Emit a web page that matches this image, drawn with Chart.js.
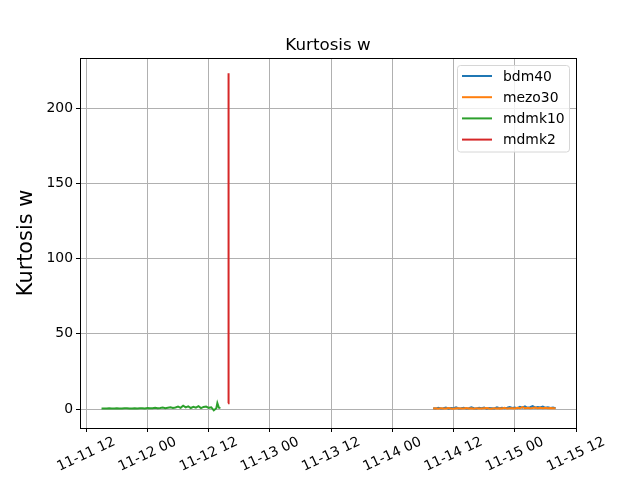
<!DOCTYPE html>
<html>
<head>
<meta charset="utf-8">
<script src="https://cdn.jsdelivr.net/npm/chart.js@4/dist/chart.umd.min.js"></script>
<style>
  html, body { margin: 0; padding: 0; background: #fff; }
  #chart { display: block; }
</style>
</head>
<body>
<canvas id="chart" width="640" height="480"></canvas>
<script>
// ─── Data (x = hours since 11-11 00:00) ──────────────────────────────────────
const TITLE = 'Kurtosis w';
const Y_LABEL = 'Kurtosis w';

const X_TICKS = [12, 24, 36, 48, 60, 72, 84, 96, 108];
const X_TICK_LABELS = ['11-11 12', '11-12 00', '11-12 12', '11-13 00', '11-13 12',
                       '11-14 00', '11-14 12', '11-15 00', '11-15 12'];
const Y_TICKS = [0, 50, 100, 150, 200];

const SERIES_NAMES = ['bdm40', 'mezo30', 'mdmk10', 'mdmk2'];
const SERIES_COLORS = ['#1f77b4', '#ff7f0e', '#2ca02c', '#d62728'];

const BDM40_T = [80.0, 80.5, 81.0, 81.5, 82.0, 82.5, 83.0, 83.5, 84.0, 84.5, 85.0, 85.5,
                 86.0, 86.5, 87.0, 87.5, 88.0, 88.5, 89.0, 89.5, 90.0, 90.5, 91.0, 91.5,
                 92.0, 92.5, 93.0, 93.5, 94.0, 94.5, 95.0, 95.5, 96.0, 96.5, 97.0, 97.5,
                 98.0, 98.5, 99.0, 99.5, 100.0, 100.5, 101.0, 101.5, 102.0, 102.5, 103.0, 103.5, 104.0];
const BDM40_V = [0.5, 0.3, 0.8, 0.4, 0.6, 1.0, 0.3, 0.7, 0.5, 1.1, 0.4, 0.6,
                 0.9, 0.3, 0.5, 1.2, 0.6, 0.4, 0.8, 0.5, 1.0, 0.3, 0.7, 0.6,
                 0.4, 1.1, 0.5, 0.8, 0.6, 0.9, 1.3, 0.7, 1.0, 0.6, 1.5, 0.9,
                 1.8, 0.8, 1.2, 2.0, 0.9, 1.4, 1.0, 1.7, 0.8, 1.2, 0.7, 1.0, 0.6];

const MEZO30_T = BDM40_T;
const MEZO30_V = [0.3, 0.5, 0.2, 0.6, 0.4, 0.3, 0.7, 0.4, 0.2, 0.5, 0.6, 0.3,
                  0.4, 0.7, 0.3, 0.5, 0.2, 0.6, 0.4, 0.3, 0.5, 0.7, 0.4, 0.2,
                  0.6, 0.3, 0.5, 0.4, 0.8, 0.3, 0.5, 0.6, 0.4, 0.9, 0.5, 1.3,
                  0.6, 0.8, 0.5, 0.7, 1.0, 0.6, 0.8, 0.5, 0.9, 0.6, 0.7, 0.5, 0.6];

const MDMK10_T = [15.0, 15.5, 16.0, 16.5, 17.0, 17.5, 18.0, 18.5, 19.0, 19.5, 20.0, 20.5,
                  21.0, 21.5, 22.0, 22.5, 23.0, 23.5, 24.0, 24.5, 25.0, 25.5, 26.0, 26.5,
                  27.0, 27.5, 28.0, 28.5, 29.0, 29.5, 30.0, 30.5, 31.0, 31.5, 32.0, 32.5,
                  33.0, 33.5, 34.0, 34.5, 35.0, 35.5, 36.0, 36.5, 37.0, 37.5, 37.7, 38.0, 38.3];
const MDMK10_V = [0.4, 0.3, 0.4, 0.5, 0.4, 0.3, 0.5, 0.4, 0.3, 0.5, 0.6, 0.4,
                  0.3, 0.5, 0.4, 0.6, 0.5, 0.4, 0.7, 0.5, 0.6, 0.8, 0.5, 0.7,
                  1.0, 0.6, 0.9, 1.2, 0.7, 1.0, 1.6, 0.8, 2.2, 1.1, 1.8, 0.7,
                  1.5, 0.9, 1.9, 0.6, 1.4, 1.7, 0.8, 1.2, -0.9, 0.6, 3.9, 0.9, 0.7];

const MDMK2_T = [39.8, 39.9];
const MDMK2_V = [3.8, 223.2];

const X_MIN = 10.78, X_MAX = 108.0;
const Y_MIN = -12.6, Y_MAX = 233.4;

// ─── Layout (matches the reference axes box) ─────────────────────────────────
const AREA = { left: 80, top: 58, right: 576, bottom: 428 };
const FONT = '"DejaVu Sans", sans-serif';
const LINE_W = 2;

function toPoints(ts, vs) {
  return ts.map((t, i) => ({ x: t, y: vs[i] }));
}

const seriesData = [
  toPoints(BDM40_T, BDM40_V),
  toPoints(MEZO30_T, MEZO30_V),
  toPoints(MDMK10_T, MDMK10_V),
  toPoints(MDMK2_T, MDMK2_V),
];

const datasets = SERIES_NAMES.map((name, i) => ({
  label: name,
  data: seriesData[i],
  borderColor: SERIES_COLORS[i],
  backgroundColor: SERIES_COLORS[i],
  borderWidth: LINE_W,
  pointRadius: 0,
  tension: 0,
  fill: false,
  order: SERIES_NAMES.length - i, // later series drawn on top, like matplotlib
}));

// ─── Decorations: frame, rotated date labels, titles, legend ─────────────────
const decorations = {
  id: 'decorations',
  afterDraw(chart) {
    const { ctx, chartArea, scales } = chart;
    ctx.save();

    // axes frame
    ctx.strokeStyle = '#000';
    ctx.lineWidth = 1;
    ctx.strokeRect(Math.round(chartArea.left) + 0.5, Math.round(chartArea.top) + 0.5,
                   Math.round(chartArea.right - chartArea.left), Math.round(chartArea.bottom - chartArea.top));

    // x tick labels, rotated 25° and centred on the tick
    ctx.fillStyle = '#000';
    ctx.font = `13.9px ${FONT}`;
    ctx.textAlign = 'center';
    ctx.textBaseline = 'middle';
    const ang = 25 * Math.PI / 180;
    X_TICKS.forEach((v, i) => {
      const px = scales.x.getPixelForValue(v);
      const w = ctx.measureText(X_TICK_LABELS[i]).width;
      const h = 13.9;
      const bboxH = w * Math.sin(ang) + h * Math.cos(ang);
      ctx.save();
      ctx.translate(px, chartArea.bottom + 7 + bboxH / 2);
      ctx.rotate(-ang);
      ctx.fillText(X_TICK_LABELS[i], 0, 0);
      ctx.restore();
    });

    // title
    ctx.font = `16.7px ${FONT}`;
    ctx.textBaseline = 'alphabetic';
    ctx.fillText(TITLE, (chartArea.left + chartArea.right) / 2, chartArea.top - 8);

    // y axis label
    ctx.save();
    ctx.font = `20.8px ${FONT}`;
    ctx.translate(32, (chartArea.top + chartArea.bottom) / 2);
    ctx.rotate(-Math.PI / 2);
    ctx.fillText(Y_LABEL, 0, 0);
    ctx.restore();

    // legend box
    const lx = 457.5, ly = 65.5, lw = 112, lh = 86.5, r = 3;
    ctx.beginPath();
    ctx.moveTo(lx + r, ly);
    ctx.arcTo(lx + lw, ly, lx + lw, ly + lh, r);
    ctx.arcTo(lx + lw, ly + lh, lx, ly + lh, r);
    ctx.arcTo(lx, ly + lh, lx, ly, r);
    ctx.arcTo(lx, ly, lx + lw, ly, r);
    ctx.closePath();
    ctx.fillStyle = 'rgba(255,255,255,0.8)';
    ctx.fill();
    ctx.strokeStyle = '#d6d6d6';
    ctx.lineWidth = 1;
    ctx.stroke();

    ctx.font = `13.9px ${FONT}`;
    ctx.textAlign = 'left';
    ctx.textBaseline = 'middle';
    chart.data.datasets.forEach((ds, i) => {
      const y = 76 + i * 21.2;
      ctx.strokeStyle = ds.borderColor;
      ctx.lineWidth = LINE_W;
      ctx.beginPath();
      ctx.moveTo(462, y);
      ctx.lineTo(492, y);
      ctx.stroke();
      ctx.fillStyle = '#000';
      ctx.fillText(ds.label, 503, y + 1);
    });

    ctx.restore();
  },
};

new Chart(document.getElementById('chart'), {
  type: 'line',
  data: { datasets },
  plugins: [decorations],
  options: {
    responsive: false,
    animation: false,
    layout: { padding: { left: 0, top: AREA.top, right: 640 - AREA.right, bottom: 0 } },
    plugins: {
      legend: { display: false },
      title: { display: false },
      tooltip: { enabled: false },
    },
    scales: {
      x: {
        type: 'linear',
        min: X_MIN,
        max: X_MAX,
        afterBuildTicks: axis => { axis.ticks = X_TICKS.map(v => ({ value: v })); },
        afterFit: axis => { axis.height = 480 - AREA.bottom; },
        ticks: { display: false },
        grid: { color: '#b0b0b0', lineWidth: 1, tickColor: '#000', tickLength: 4, drawTicks: true },
        border: { display: false },
      },
      y: {
        type: 'linear',
        min: Y_MIN,
        max: Y_MAX,
        afterBuildTicks: axis => { axis.ticks = Y_TICKS.map(v => ({ value: v })); },
        afterFit: axis => { axis.width = AREA.left; },
        ticks: { color: '#000', font: { family: FONT, size: 13.9 }, padding: 3 },
        grid: { color: '#b0b0b0', lineWidth: 1, tickColor: '#000', tickLength: 4, drawTicks: true },
        border: { display: false },
      },
    },
  },
});
</script>
</body>
</html>
